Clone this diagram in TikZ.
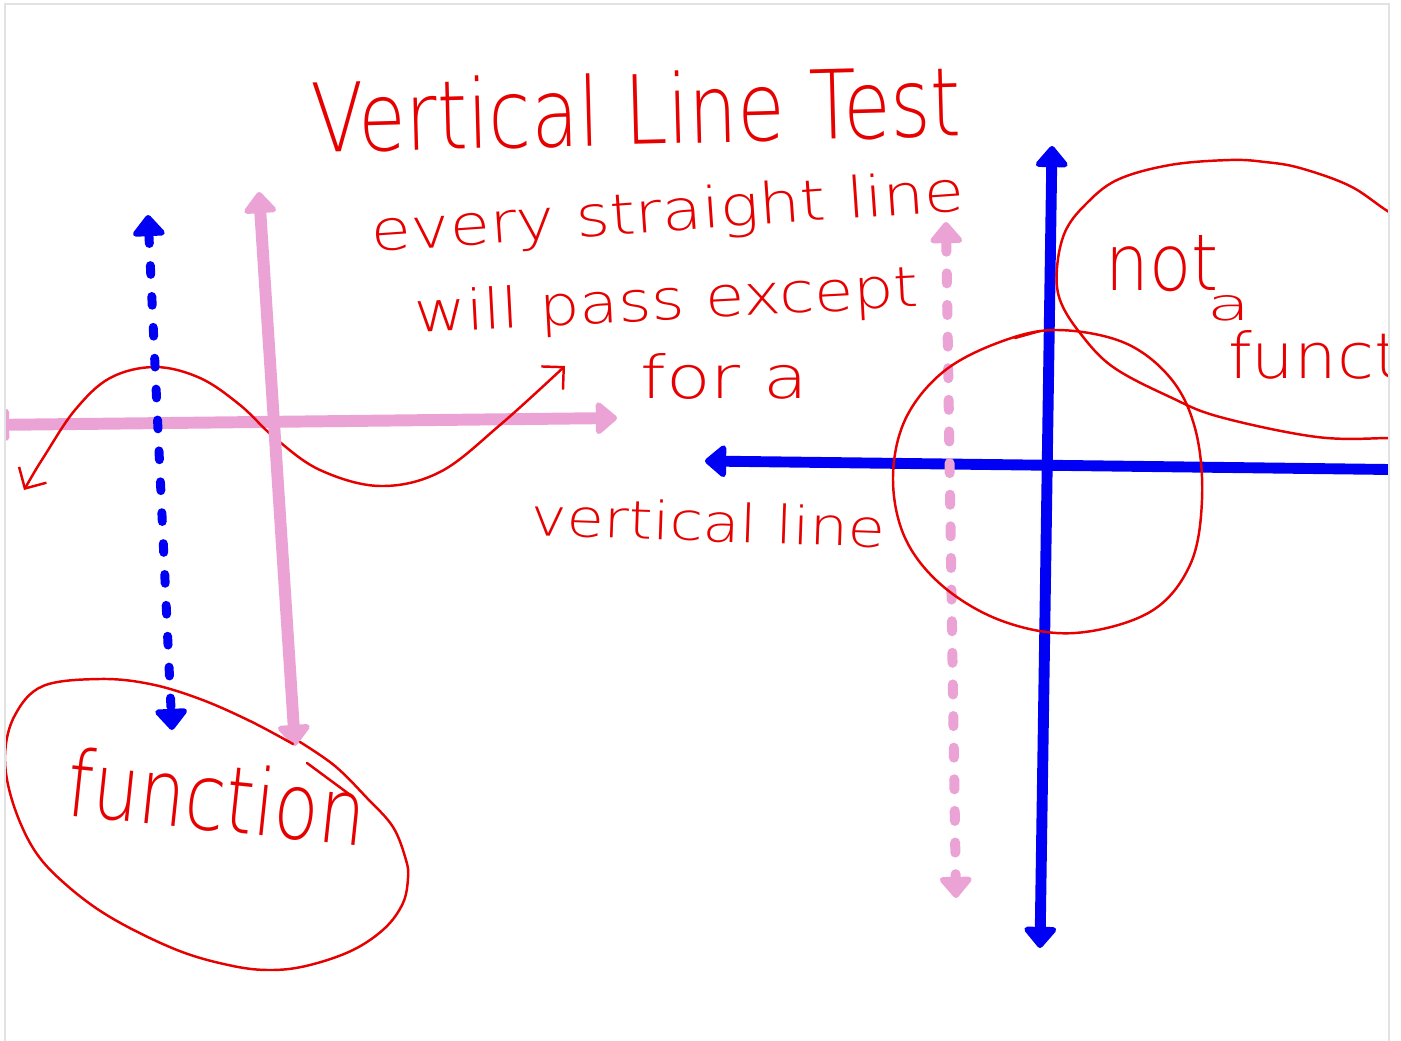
\documentclass[tikz,border=0pt]{standalone}
\usepackage{fontspec}
\setmainfont{Liberation Sans}
\newfontfamily\handfont{DejaVu Sans ExtraLight}
\usepackage{graphicx}
\usetikzlibrary{arrows.meta}
\definecolor{Ink}{HTML}{E60000}
\definecolor{Pen}{HTML}{0000F5}
\definecolor{Marker}{HTML}{EBA3D5}
\definecolor{Frame}{HTML}{E2E2E2}
\newcommand{\hand}[3]{\resizebox{#1}{#2}{\handfont #3}}

\begin{document}
\begin{tikzpicture}[x=0.02cm, y=-0.02cm, >={Triangle[round,length=13pt,width=21pt]},
  ink/.style={draw=Ink, line width=1.4pt, line cap=round, line join=round},
  txt/.style={text=Ink, inner sep=0pt, anchor=base west},
  axis/.style={draw=#1, line cap=round, <->},
  dashes/.style={dash pattern=on 5pt off 12.6pt}]
\useasboundingbox (0,0) rectangle (1401,1041);
\begin{scope}
\clip (5,4) rectangle (1389,1041);
% left graph: sine passes the test
\draw[axis=Marker, line width=6.8pt] (-12,425) -- (617,418);
\draw[ink, {Straight Barb[length=9pt,width=18pt]}-{Straight Barb[length=9pt,width=18pt]}] plot[smooth, tension=0.6] coordinates {(24,490) (45,455) (75,410) (110,378) (155,367) (200,378) (240,405) (275,438) (320,470) (380,486) (440,472) (500,425) (565,366)};
\draw[axis=Marker, line width=6.8pt] (259,192) -- (295,746);
\draw[axis=Pen, line width=5.1pt, dashes] (148,215) -- (172,730);
\draw[ink] plot[smooth, tension=0.6] coordinates {(300,742) (335,766) (367,798) (393,827) (406,860) (408,878) (403,903) (385,928) (353,950) (310,965) (273,970) (233,966) (177,950) (110,917) (63,882) (33,848) (12,800) (5,755) (15,715) (43,686) (100,679) (150,684) (200,699) (250,721) (293,744)};
\draw[ink] (307,763) -- (353,797);
\node[txt, rotate=-6] (fn) at (64,815) {\hand{6.0cm}{1.4cm}{function}};
% heading and notes
\node[txt, rotate=1.5] (title) at (312,153) {\hand{13.0cm}{1.45cm}{Vertical Line Test}};
\node[txt, rotate=4] (every) at (372,252) {\hand{11.9cm}{0.86cm}{every straight line}};
\node[txt, rotate=3] (will) at (415,333) {\hand{10.1cm}{0.85cm}{will pass except}};
\node[txt] (fora) at (640,398) {\hand{3.36cm}{0.9cm}{for a}};
\node[txt, rotate=-2] (vline) at (530,535) {\hand{7.1cm}{0.8cm}{vertical line}};
% right graph: circle fails the test
\draw[axis=Pen, line width=6.2pt] (705,461) -- (1430,470);
\draw[axis=Pen, line width=6.2pt] (1052,146) -- (1040,948);
\draw[axis=Marker, line width=5.7pt, dash pattern=on 5.7pt off 12.3pt] (946,222) -- (956,898);
\draw[ink] plot[smooth cycle, tension=0.6] coordinates {(1057,330) (1125,343) (1172,380) (1196,432) (1202,500) (1190,565) (1150,612) (1075,633) (1005,622) (945,588) (906,540) (893,480) (905,420) (943,372) (1000,342)};
\draw[ink] (1015,338) -- (1040,331);
\draw[ink] plot[smooth, tension=0.6] coordinates {(1430,235) (1389,212) (1350,186) (1300,168) (1265,162) (1230,160) (1170,165) (1117,180) (1085,205) (1065,232) (1057,268) (1060,300) (1080,333) (1113,367) (1170,397) (1220,417) (1317,437) (1389,438) (1430,436)};
\node[txt] (nota) at (1105,290) {\hand{2.26cm}{1.1cm}{not}};
\node[txt] (a) at (1207,320) {\hand{0.86cm}{0.5cm}{a}};
\node[txt] (funct) at (1228,378) {\hand{3.44cm}{0.96cm}{funct}};
\end{scope}
\draw[draw=Frame, line width=0.7pt] (5,1041) -- (5,4) -- (1389,4) -- (1389,1041);
\end{tikzpicture}
\end{document}
